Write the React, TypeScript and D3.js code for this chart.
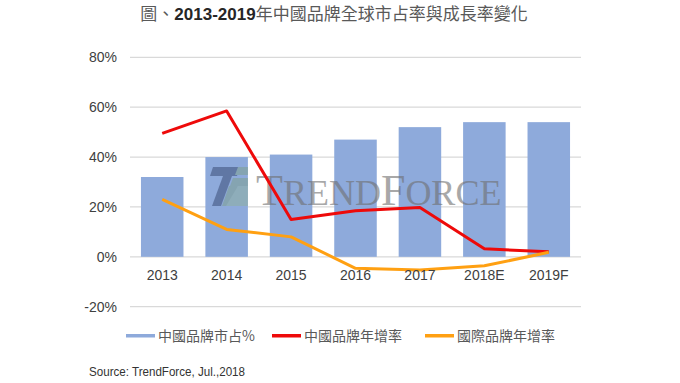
import React from "react";
import * as d3 from "d3";

const categories = ["2013", "2014", "2015", "2016", "2017", "2018E", "2019F"];
const marketShare = [32, 40, 41, 47, 52, 54, 54];
const chinaGrowth = [49.5, 58.5, 15, 18.5, 19.8, 3.2, 2];
const intlGrowth = [23, 11, 8, -4.6, -5.3, -3.6, 1.8];
const yTicks = [-20, 0, 20, 40, 60, 80];
const legendItems = [
  { label: "中國品牌市占%", color: "#8eaadb" },
  { label: "中國品牌年增率", color: "#ee0a0a" },
  { label: "國際品牌年增率", color: "#ffa012" },
];

const W = 680;
const H = 383;

export default function App() {
  const x = d3.scaleBand<string>().domain(categories).range([130, 581]).paddingInner(0.34).paddingOuter(0.17);
  const y = d3.scaleLinear().domain([-20, 80]).range([306.7, 57.3]);
  const cx = (c: string) => (x(c) ?? 0) + x.bandwidth() / 2;
  const line = d3
    .line<number>()
    .x((_, i) => cx(categories[i]))
    .y((d) => y(d));

  const cjk = "'Noto Sans CJK TC', 'Noto Sans CJK SC', sans-serif";
  const sans = "'Liberation Sans', Arial, sans-serif";
  const legendX = [126, 272, 425];

  return (
    <svg width={W} height={H} style={{ position: "absolute", left: 0, top: 0, background: "#fff" }}>
      {/* title */}
      <text x={334} y={20} textAnchor="middle" fontSize={17} fontFamily={cjk} fill="#595959">
        圖、
        <tspan fontFamily={sans} fontWeight="bold" fill="#262626">2013-2019</tspan>
        年中國品牌全球市占率與成長率變化
      </text>

      {/* gridlines */}
      {yTicks.map((t) => (
        <line key={t} x1={130} x2={581} y1={y(t)} y2={y(t)} stroke="#d9d9d9" strokeWidth={1.2} />
      ))}
      {yTicks.map((t) => (
        <text key={"l" + t} x={117} y={y(t)} dy="0.36em" textAnchor="end" fontSize={14} fontFamily={sans} fill="#404040">
          {t}%
        </text>
      ))}

      {/* bars */}
      {categories.map((c, i) => (
        <rect key={c} x={x(c)} y={y(marketShare[i])} width={x.bandwidth()} height={y(0) - y(marketShare[i])} fill="#8eaadb" />
      ))}

      {/* watermark */}
      <g opacity={0.55}>
        <polygon points="213,167 240,167 237,176 210,176" fill="#3c4f78" />
        <polygon points="223,176 232,176 221,206 212,206" fill="#3c4f78" />
        <polygon points="238,167 248,167 248,175 235,175" fill="#7fa08f" />
        <polygon points="233,178 248,178 248,186 230,186" fill="#7fa08f" />
        <polygon points="229,186 238,186 231,206 222,206" fill="#7fa08f" />
        <polygon points="226,206 248,206 248,186 238,186" fill="#8fb0a0" />
      </g>
      <text x={256} y={205} fontFamily="'Liberation Serif', 'DejaVu Serif', serif" fill="#6f6f6f" opacity={0.6}>
        <tspan fontSize={44}>T</tspan>
        <tspan fontSize={36}>REND</tspan>
        <tspan fontSize={44}>F</tspan>
        <tspan fontSize={36}>ORCE</tspan>
      </text>

      {/* lines */}
      <path d={line(chinaGrowth) ?? ""} fill="none" stroke="#ee0a0a" strokeWidth={3} strokeLinejoin="round" />
      <path d={line(intlGrowth) ?? ""} fill="none" stroke="#ffa012" strokeWidth={3} strokeLinejoin="round" />

      {/* x labels */}
      {categories.map((c) => (
        <text key={"x" + c} x={cx(c)} y={280} textAnchor="middle" fontSize={14} fontFamily={sans} fill="#404040">
          {c}
        </text>
      ))}

      {/* legend */}
      {legendItems.map((it, i) => (
        <g key={it.label}>
          <rect x={legendX[i]} y={334} width={29} height={3.5} fill={it.color} />
          <text x={legendX[i] + 32} y={336} dy="0.36em" fontSize={14} fontFamily={cjk} fill="#595959">
            {it.label}
          </text>
        </g>
      ))}

      {/* source */}
      <text x={89} y={376} fontSize={12.5} fontFamily={sans} fill="#333" textLength={156} lengthAdjust="spacingAndGlyphs">
        Source: TrendForce, Jul.,2018
      </text>
    </svg>
  );
}
